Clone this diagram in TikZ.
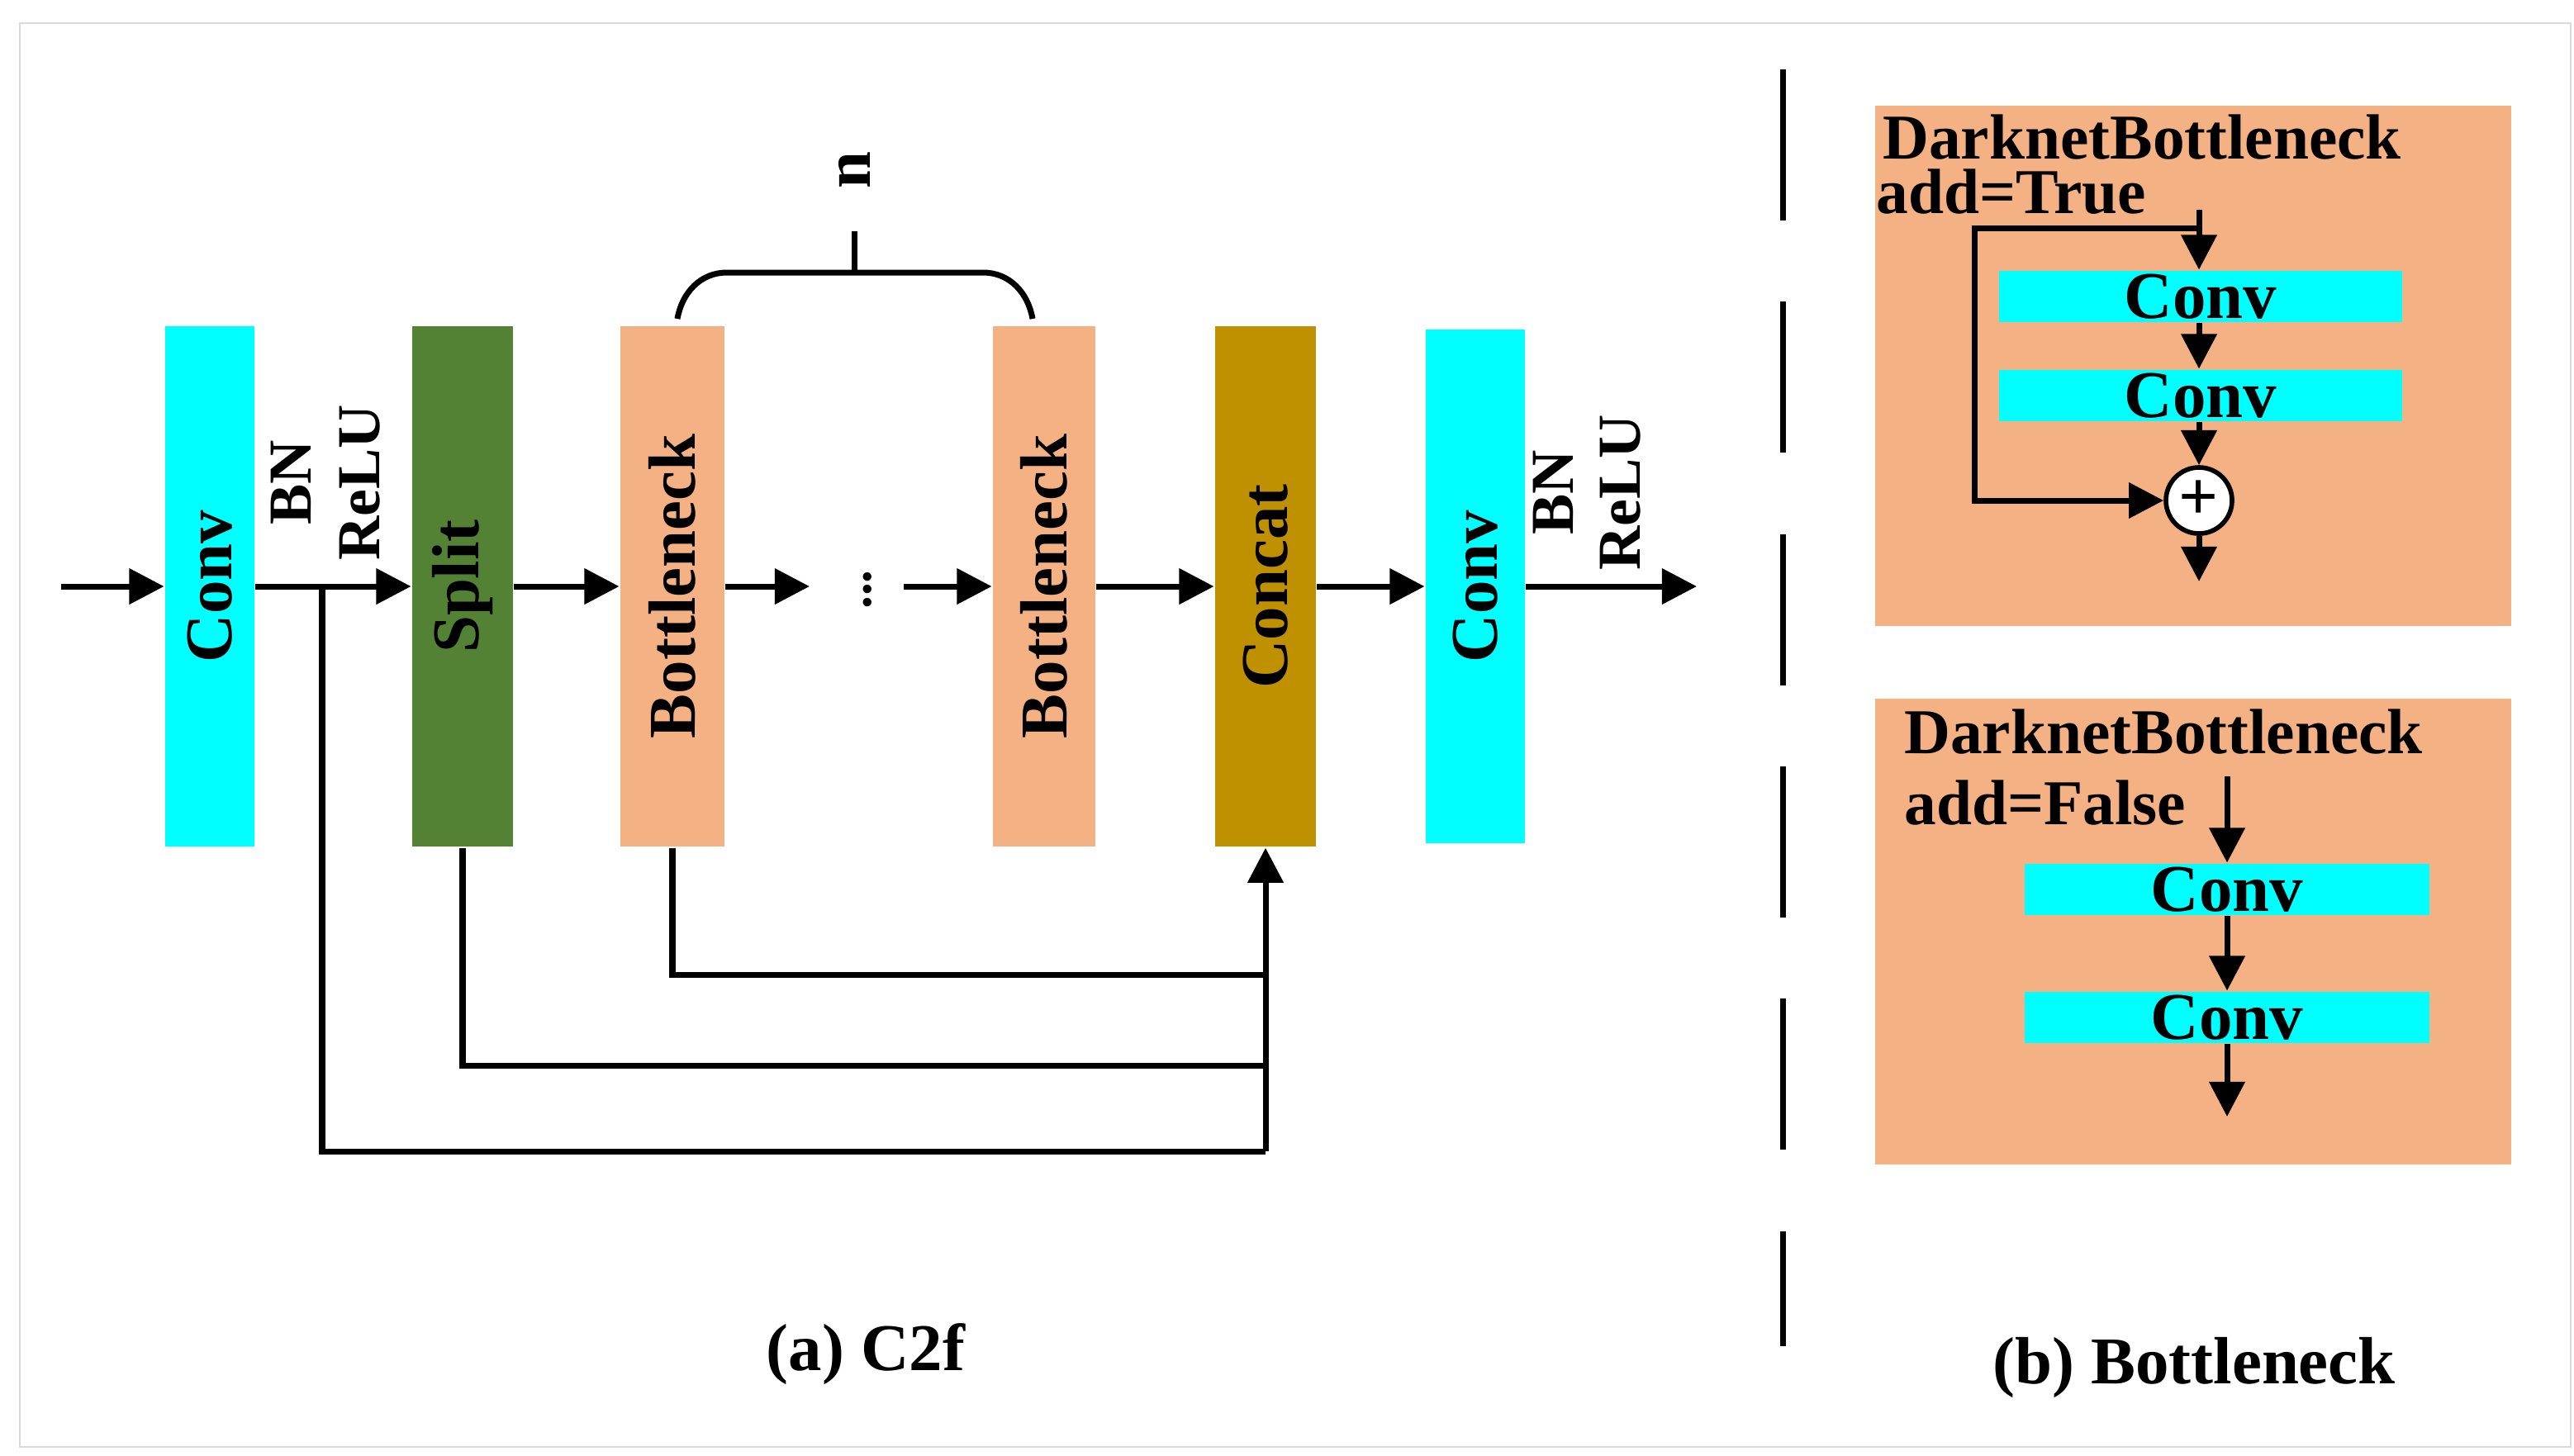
\documentclass[tikz,border=0pt]{standalone}
\usepackage{fontspec}
\setmainfont{Liberation Serif}
\usetikzlibrary{arrows.meta,positioning,calc}
\definecolor{convcyan}{HTML}{00FFFF}
\definecolor{splitgreen}{HTML}{548235}
\definecolor{bneck}{HTML}{F4B183}
\definecolor{concatgold}{HTML}{BF9000}

\begin{document}
\begin{tikzpicture}[x=0.01cm,y=-0.01cm,
        block/.style={rectangle, inner sep=0pt, font=\fontsize{11.5}{14}\selectfont\bfseries},
        vlabel/.style={rotate=90, font=\fontsize{11.5}{14}\selectfont\bfseries},
        bar/.style={rectangle, fill=convcyan, inner sep=0pt, minimum width=2.44cm, minimum height=0.31cm, font=\fontsize{11.5}{14}\selectfont\bfseries},
        panel/.style={rectangle, fill=bneck, inner sep=0pt},
        title/.style={anchor=west, inner sep=0pt, font=\fontsize{11}{13}\selectfont\bfseries},
        arrow/.style={-{Triangle[length=6pt,width=6pt]}, line width=1pt},
        line/.style={line width=1pt}
    ]
        \useasboundingbox (0,0) rectangle (1558,881);
        \draw[black!15] (12,14) rectangle (1556,876);

        % C2f blocks
        \node[block, fill=convcyan, minimum width=0.54cm, minimum height=3.15cm] (conva) at (127,355) {};
        \node[block, fill=splitgreen, minimum width=0.61cm, minimum height=3.15cm] (split) at (280,355) {};
        \node[block, fill=bneck, minimum width=0.63cm, minimum height=3.15cm] (bnecka) at (407,355) {};
        \node[block, fill=bneck, minimum width=0.62cm, minimum height=3.15cm] (bneckb) at (632,355) {};
        \node[block, fill=concatgold, minimum width=0.61cm, minimum height=3.15cm] (concat) at (766,355) {};
        \node[block, fill=convcyan, minimum width=0.60cm, minimum height=3.11cm] (convb) at (893,355) {};
        \foreach \n/\t in {conva/Conv, split/Split, bnecka/Bottleneck, bneckb/Bottleneck, concat/Concat, convb/Conv}
            \node[vlabel] at (\n) {\t};
        \node[rotate=90, font=\fontsize{9}{10}\selectfont\bfseries] (dots) at (525,357) {...};

        % BN / ReLU labels
        \node[vlabel, font=\fontsize{10.5}{12}\selectfont\bfseries] (bna) at (176,292) {BN};
        \node[vlabel, font=\fontsize{10.5}{12}\selectfont\bfseries] (relua) at (218,292) {ReLU};
        \node[vlabel, font=\fontsize{10.5}{12}\selectfont\bfseries] (bnb) at (940,298) {BN};
        \node[vlabel, font=\fontsize{10.5}{12}\selectfont\bfseries] (relub) at (981,298) {ReLU};

        % Main flow
        \coordinate (in) at (37,355);
        \coordinate (out) at (1027,355);
        \coordinate (tap) at (195,355);
        \draw[arrow] (in) -- (conva.west);
        \draw[arrow] (conva.east) -- (split.west);
        \draw[arrow] (split.east) -- (bnecka.west);
        \draw[arrow] (bnecka.east) -- (490,355);
        \draw[arrow] (547,355) -- (bneckb.west);
        \draw[arrow] (bneckb.east) -- (concat.west);
        \draw[arrow] (concat.east) -- (convb.west);
        \draw[arrow] (convb.east) -- (out);

        % Brace and n
        \draw[line] (410,193) to[out=80,in=180] (440,165) -- (595,165) to[out=0,in=100] (625,193);
        \draw[line] (517,165) -- (517,140);
        \node[vlabel] (n) at (517,103) {n};

        % Feedback connections
        \draw[line] (bnecka.south) |- (766,590);
        \draw[line] (split.south) |- (766,645);
        \draw[line] (tap) |- (766,697);
        \draw[arrow] (766,697) -- (concat.south);

        \node[font=\fontsize{11.5}{14}\selectfont\bfseries] (capa) at (524,820) {(a) C2f};
        \draw[line, dash pattern=on 26pt off 14pt] (1079,42) -- (1079,815);

        % Bottleneck add=True
        \node[panel, minimum width=3.85cm, minimum height=3.15cm] (pa) at (1327.5,221.5) {};
        \node[title] at (1139,83) {DarknetBottleneck};
        \node[title] at (1135,116) {add=True};
        \node[bar] (ca) at (1332,179.5) {Conv};
        \node[bar] (cb) at (1332,239.5) {Conv};
        \node[circle, draw, line width=0.8pt, fill=white, minimum size=0.4cm, inner sep=0pt, font=\bfseries\large] (plus) at (1331,303) {+};
        \coordinate (ta) at (1331,127);
        \coordinate (tb) at (1331,138);
        \coordinate (oa) at (1331,352);
        \draw[arrow] (ta) -- (ca.north -| ta);
        \draw[arrow] (ca.south -| ta) -- (cb.north -| ta);
        \draw[arrow] (cb.south -| ta) -- (plus.north);
        \draw[arrow] (plus.south) -- (oa);
        \draw[arrow] (tb) -- (1195,138) |- (plus.west);

        % Bottleneck add=False
        \node[panel, minimum width=3.85cm, minimum height=2.82cm] (pb) at (1327.5,564) {};
        \node[title] at (1152,443) {DarknetBottleneck};
        \node[title] at (1152,486) {add=False};
        \node[bar, minimum width=2.45cm] (cc) at (1348,538.5) {Conv};
        \node[bar, minimum width=2.45cm] (cd) at (1348,616) {Conv};
        \coordinate (tc) at (1348,470);
        \coordinate (oc) at (1348,676);
        \draw[arrow] (tc) -- (cc.north);
        \draw[arrow] (cc.south) -- (cd.north);
        \draw[arrow] (cd.south) -- (oc);

        \node[font=\fontsize{11.5}{14}\selectfont\bfseries] (capb) at (1328,828) {(b) Bottleneck};
    \end{tikzpicture}
\end{document}
